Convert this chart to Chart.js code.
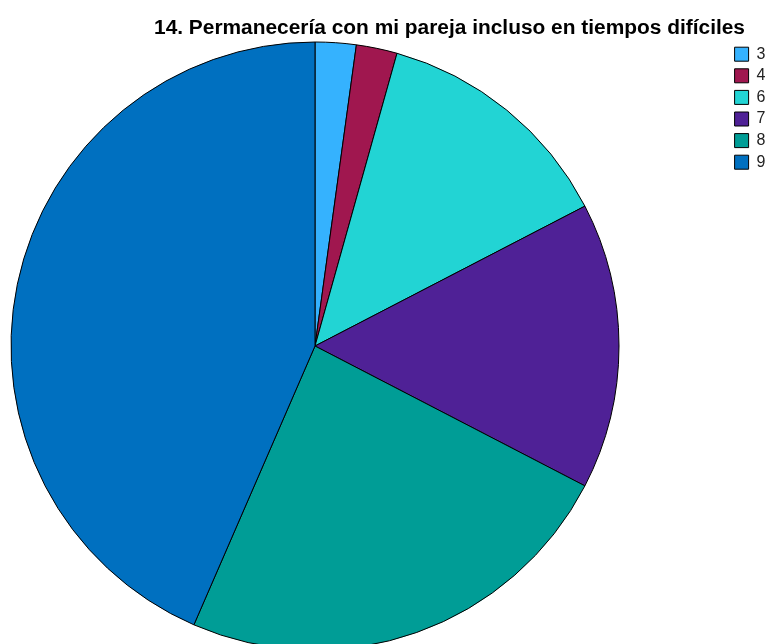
<!DOCTYPE html>
<html>
<head>
<meta charset="utf-8">
<script src="https://cdn.jsdelivr.net/npm/chart.js@4/dist/chart.umd.min.js"></script>
<style>
  html, body { margin: 0; padding: 0; background: #fff; }
  #wrap { width: 766px; height: 644px; overflow: hidden; position: relative; }
  #c { position: absolute; left: -99px; top: 0; }
  #title {
    position: absolute; right: 21px; top: 15.5px;
    font: bold 20.9px 'Liberation Sans', Arial, sans-serif;
    line-height: 21px; color: #000; white-space: nowrap;
  }
</style>
</head>
<body>
<div id="wrap">
  <canvas id="c" width="868" height="660" style="width:868px;height:660px"></canvas>
  <div id="title"></div>
</div>
<script>
// categories (answer values) and their counts
const categories = ['3', '4', '6', '7', '8', '9'];
const counts = [1, 1, 6, 7, 11, 20];
const sliceColors = ['#35b2fe', '#a0174f', '#22d4d4', '#4f2196', '#009d96', '#0070c0'];
const chartTitle = '14. Permanecería con mi pareja incluso en tiempos difíciles';

document.getElementById('title').textContent = chartTitle;

new Chart(document.getElementById('c'), {
  type: 'pie',
  data: {
    labels: categories,
    datasets: [{
      data: counts,
      backgroundColor: sliceColors,
      borderColor: '#000',
      borderWidth: 1
    }]
  },
  options: {
    responsive: false,
    animation: false,
    radius: 304,
    layout: { padding: { left: 0, right: 0, top: 40.6, bottom: 8.6 } },
    plugins: {
      tooltip: { enabled: false },
      title: { display: false },
      legend: {
        position: 'right',
        align: 'start',
        maxWidth: 40,
        labels: {
          boxWidth: 14,
          boxHeight: 14,
          padding: 5.6,
          color: '#222',
          font: { family: "'Liberation Sans', Arial, sans-serif", size: 16 }
        }
      }
    }
  }
});
</script>
</body>
</html>
